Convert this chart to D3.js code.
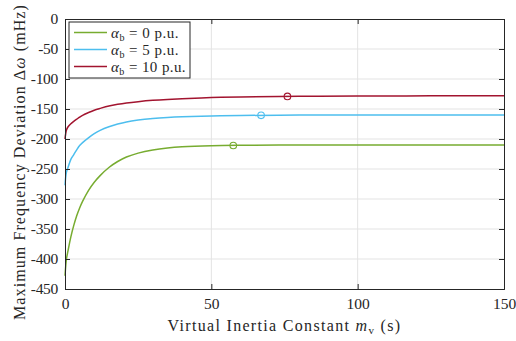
<!DOCTYPE html>
<html><head><meta charset="utf-8">
<script src="https://cdn.jsdelivr.net/npm/d3@7"></script>
<style>
body{margin:0;background:#fff;}
text{font-family:"Liberation Serif","Times New Roman",serif;fill:#262626;}
</style></head>
<body><svg id="c" width="516" height="341"></svg>
<script>
const mv   = [0,0.5,1,2,3,4,5,6,8,10,12,15,18,21,25,30,35,40,50,60,80,100,125,150];
const dw0  = [-428,-400,-387,-363,-344,-328,-315,-304,-286,-272,-261,-247.5,-237.5,-230,-223.5,-218.3,-215,-213,-211.1,-210.4,-210,-210,-210,-210];
const dw5  = [-277,-255,-248,-234,-226,-218,-211,-206,-198,-191,-185.5,-179.5,-175,-171.5,-168.5,-166,-164.3,-163.1,-161.6,-160.8,-160.2,-160,-160,-160];
const dw10 = [-200,-185,-180,-174.5,-170.5,-167,-163.5,-160.5,-156,-152,-149,-145,-142.2,-140,-137.8,-135.6,-134,-132.8,-131,-129.9,-128.8,-128.4,-128.1,-128];
const markers = [[57.5,-210.8],[67,-160.6],[76,-129]];
const seriesNames = ["0","5","10"];
const colors = ["#77AC30","#4DBEEE","#A2142F"];
const xTicks = [0,50,100,150];
const yTicks = [0,-50,-100,-150,-200,-250,-300,-350,-400,-450];

const svg = d3.select("#c");
const L=65,R=504,T=19,B=289;
const x = d3.scaleLinear().domain([0,150]).range([L,R]);
const y = d3.scaleLinear().domain([-450,0]).range([B,T]);
const axisCol="#262626";

function fit(sel,target){
  const n=sel.node();
  const w=n.getComputedTextLength();
  const chars=n.textContent.length;
  sel.attr("letter-spacing",((target-w)/chars).toFixed(2));
}

// grid
svg.append("g").selectAll("line").data(yTicks.slice(1,-1)).join("line")
 .attr("x1",L).attr("x2",R).attr("y1",d=>y(d)).attr("y2",d=>y(d))
 .attr("stroke","#e3e3e3").attr("stroke-width",1);
svg.append("g").selectAll("line").data(xTicks.slice(1,-1)).join("line")
 .attr("y1",T).attr("y2",B).attr("x1",d=>x(d)).attr("x2",d=>x(d))
 .attr("stroke","#e3e3e3").attr("stroke-width",1);

// curves
const all=[dw0,dw5,dw10];
const line=d3.line().x(d=>x(d[0])).y(d=>y(d[1])).curve(d3.curveCatmullRom.alpha(0.5));
all.forEach((s,i)=>{
  svg.append("path").datum(mv.map((m,j)=>[m,s[j]])).attr("d",line)
   .attr("fill","none").attr("stroke",colors[i]).attr("stroke-width",1.5);
});
markers.forEach((p,i)=>{
  svg.append("circle").attr("cx",x(p[0])).attr("cy",y(p[1])).attr("r",3.3)
   .attr("fill","none").attr("stroke",colors[i]).attr("stroke-width",1.1);
});

// axes
const xa=d3.axisBottom(x).tickValues(xTicks).tickSize(-5).tickPadding(9).tickFormat(d3.format("d"));
const ya=d3.axisLeft(y).tickValues(yTicks).tickSize(-5).tickPadding(7).tickFormat(d=>d===0?"0":"-"+Math.abs(d));
const gx=svg.append("g").attr("transform",`translate(0,${B})`).call(xa);
const gy=svg.append("g").attr("transform",`translate(${L},0)`).call(ya);
const gx2=svg.append("g").attr("transform",`translate(0,${T})`).call(d3.axisTop(x).tickValues(xTicks).tickSize(-5).tickFormat(""));
const gy2=svg.append("g").attr("transform",`translate(${R},0)`).call(d3.axisRight(y).tickValues(yTicks).tickSize(-5).tickFormat(""));
[gx,gy,gx2,gy2].forEach(g=>{
  g.select(".domain").attr("stroke",axisCol).attr("stroke-width",1);
  g.selectAll(".tick line").attr("stroke",axisCol);
  g.selectAll("text").attr("font-family","Liberation Serif").attr("font-size",15.5).attr("fill",axisCol);
});
gy.selectAll("text").attr("letter-spacing",-0.3);

// axis labels
const xl=svg.append("text").attr("x",(L+R)/2).attr("y",331).attr("text-anchor","middle").attr("font-size",16);
xl.append("tspan").text("Virtual Inertia Constant ");
xl.append("tspan").attr("font-style","italic").text("m");
xl.append("tspan").attr("font-size",11).attr("dy",3).text("v");
xl.append("tspan").attr("dy",-3).text(" (s)");
fit(xl,234);

const yl=svg.append("text").attr("transform",`translate(25,162) rotate(-90)`).attr("text-anchor","middle").attr("font-size",16);
yl.append("tspan").text("Maximum Frequency Deviation Δ");
yl.append("tspan").attr("font-style","italic").text("ω");
yl.append("tspan").text(" (mHz)");
fit(yl,316);

// legend
const lg=svg.append("g");
lg.append("rect").attr("x",69).attr("y",22).attr("width",121).attr("height",56)
  .attr("fill","#fff").attr("stroke",axisCol).attr("stroke-width",1);
const legW=[68,68,75];
seriesNames.forEach((n,i)=>{
  const yy=32.5+i*17;
  lg.append("line").attr("x1",74).attr("x2",107).attr("y1",yy).attr("y2",yy)
    .attr("stroke",colors[i]).attr("stroke-width",1.5);
  const t=lg.append("text").attr("x",111).attr("y",yy+5).attr("font-size",15);
  t.append("tspan").attr("font-style","italic").text("α");
  t.append("tspan").attr("font-size",10).attr("dy",3).text("b");
  t.append("tspan").attr("dy",-3).text(" = "+n+" p.u.");
  fit(t,legW[i]);
});
</script></body></html>
